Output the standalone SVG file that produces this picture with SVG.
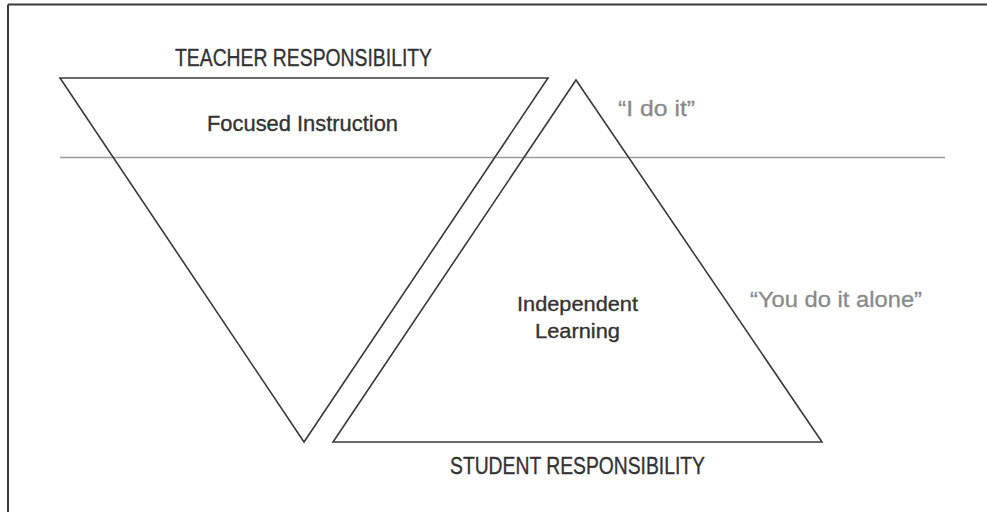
<svg xmlns="http://www.w3.org/2000/svg" width="987" height="512" viewBox="0 0 987 512">
<style>
.tri{fill:none;stroke:#3a3a3a;stroke-width:1.6;stroke-linejoin:miter}
.lbl{font-family:"Liberation Sans",Arial,sans-serif;fill:#333;stroke:#333;stroke-width:0.35;text-anchor:middle}
.quote{font-family:"Liberation Sans",Arial,sans-serif;fill:#8a8a8a;stroke:#8a8a8a;stroke-width:0.3}
</style>
<rect width="987" height="512" fill="#fff"/>
<g id="frame" stroke="#3a3a3a" stroke-width="2" fill="none">
<line x1="8" y1="4.5" x2="987" y2="4.5"/>
<line x1="8" y1="4.5" x2="8" y2="512"/>
</g>
<g id="divider">
<line x1="60" y1="157.5" x2="945" y2="157.5" stroke="#9a9a9a" stroke-width="1.4"/>
</g>
<g id="teacher">
<polygon class="tri" points="60,78 548,78 304,442"/>
<text class="lbl" x="303.5" y="65.5" font-size="23.5" textLength="257" lengthAdjust="spacingAndGlyphs">TEACHER RESPONSIBILITY</text>
<text class="lbl" x="302.5" y="131" font-size="21.5" textLength="191" lengthAdjust="spacingAndGlyphs">Focused Instruction</text>
</g>
<g id="student">
<polygon class="tri" points="576,80 333,442 822,442"/>
<text class="lbl" x="577.5" y="473.5" font-size="23.5" textLength="255" lengthAdjust="spacingAndGlyphs">STUDENT RESPONSIBILITY</text>
<text class="lbl" x="577.5" y="311" font-size="21" textLength="121" lengthAdjust="spacingAndGlyphs">Independent</text>
<text class="lbl" x="577.5" y="338" font-size="21" textLength="85" lengthAdjust="spacingAndGlyphs">Learning</text>
</g>
<g id="quotes">
<text class="quote" x="618" y="116" font-size="22" textLength="77" lengthAdjust="spacingAndGlyphs">“I do it”</text>
<text class="quote" x="750" y="307" font-size="21.5" textLength="172" lengthAdjust="spacingAndGlyphs">“You do it alone”</text>
</g>
</svg>
